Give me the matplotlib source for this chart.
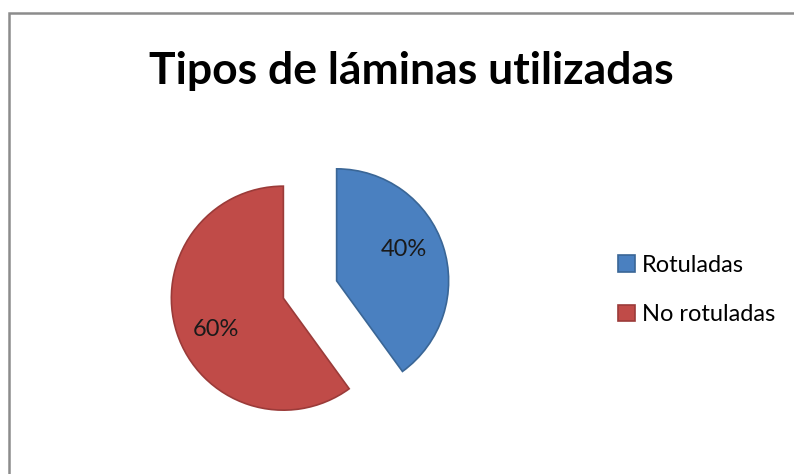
import numpy as np
import matplotlib.pyplot as plt
from matplotlib.patches import Rectangle

# data
labels = ['Rotuladas', 'No rotuladas']
values = [40, 60]
colors = ['#4A80C0', '#C04B48']
edges = ['#3A6696', '#9B3B39']

W, H = 794, 474
fig = plt.figure(figsize=(W / 100, H / 100), dpi=100)
ax = fig.add_axes([0, 0, 1, 1])

# explode is in data units here (pixels), since radius is in pixels
wedges, texts, autotexts = ax.pie(
    values, colors=colors, startangle=90, counterclock=False,
    explode=[28, 28], radius=112, center=(310, H - 289.5),
    autopct='%1.0f%%', pctdistance=0.66,
    wedgeprops=dict(linewidth=1.2),
    textprops=dict(fontsize=17, family='Lato', color='#1a1a1a'))
for w, ec, t in zip(wedges, edges, autotexts):
    w.set_edgecolor(ec)
    # nudge the percent label a bit counterclockwise like Excel does
    mid = np.deg2rad((w.theta1 + w.theta2) / 2 + 7)
    cx, cy = w.center
    t.set_position((cx + 0.66 * w.r * np.cos(mid), cy + 0.66 * w.r * np.sin(mid)))

ax.set_xlim(0, W)
ax.set_ylim(0, H)
ax.set_aspect('equal')
ax.axis('off')

# chart border (only top and left visible in the crop)
fig.patches.append(Rectangle((9 / W, -0.1), 1.2, (H - 13) / H + 0.1,
                             transform=fig.transFigure, fill=False,
                             edgecolor='#8c8c8c', linewidth=1.8))

fig.text(411 / W, 1 - 71 / H, 'Tipos de láminas utilizadas', ha='center', va='center',
         fontsize=32, fontweight='bold', family='Lato', color='black')

ax.legend(wedges, labels, loc='center left', bbox_to_anchor=(597 / W, 1 - 290 / H),
          bbox_transform=fig.transFigure, frameon=False,
          prop=dict(family='Lato', size=17), handlelength=0.7, handleheight=0.7,
          handletextpad=0.3, labelspacing=1.2)

fig.savefig('out.png', dpi=100)
